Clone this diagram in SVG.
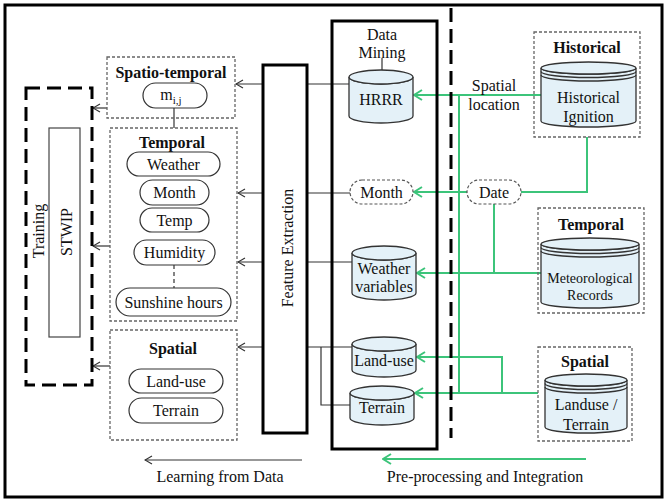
<svg xmlns="http://www.w3.org/2000/svg" width="667" height="502" viewBox="0 0 667 502">
<defs>
<style>
text{font-family:"Liberation Serif","Times New Roman",serif;font-size:16px;fill:#111;text-anchor:middle}
.b{font-weight:bold}
.s14{font-size:14px}
.dbox{fill:none;stroke:#666;stroke-width:1.3;stroke-dasharray:3 2}
.pill{fill:#fff;stroke:#333;stroke-width:1.2}
.dpill{fill:#fff;stroke:#555;stroke-width:1.2;stroke-dasharray:3 2}
.cyl{fill:#e4f1f8;stroke:#333;stroke-width:1.3}
.rim{fill:none;stroke:#333;stroke-width:1.3}
.thick{fill:none;stroke:#000;stroke-width:3}
.bl{fill:none;stroke:#333;stroke-width:1.2}
.gr{fill:none;stroke:#3cc47a;stroke-width:2}
.dash3{fill:none;stroke:#000;stroke-width:3;stroke-dasharray:14 7}
</style>
<marker id="ab" markerUnits="userSpaceOnUse" viewBox="0 0 10 10" refX="9" refY="5" markerWidth="10" markerHeight="10" orient="auto">
<path d="M2,1 L9,5 L2,9" fill="none" stroke="#333" stroke-width="1.2"/>
</marker>
<marker id="ag" markerUnits="userSpaceOnUse" viewBox="0 0 12 12" refX="11" refY="6" markerWidth="12" markerHeight="12" orient="auto">
<path d="M3,1 L11,6 L3,11" fill="none" stroke="#3cc47a" stroke-width="2"/>
</marker>
</defs>
<rect x="0" y="0" width="667" height="502" fill="#fff"/>
<rect x="5" y="5" width="657" height="492" class="thick"/>

<g id="connectors">
<line x1="349" y1="84" x2="236" y2="84" class="bl" marker-end="url(#ab)"/>
<line x1="350" y1="193" x2="238" y2="193" class="bl" marker-end="url(#ab)"/>
<line x1="352" y1="262" x2="238" y2="262" class="bl" marker-end="url(#ab)"/>
<line x1="352" y1="347" x2="238" y2="347" class="bl" marker-end="url(#ab)"/>
<polyline points="321,347 321,405 350,405" class="bl"/>
<line x1="107" y1="108" x2="93" y2="108" class="bl" marker-end="url(#ab)"/>
<line x1="110" y1="246" x2="93" y2="246" class="bl" marker-end="url(#ab)"/>
<line x1="110" y1="366" x2="93" y2="366" class="bl" marker-end="url(#ab)"/>
<line x1="174" y1="108" x2="174" y2="128" class="bl"/>
<line x1="174" y1="265" x2="174" y2="288" class="bl" stroke-dasharray="4 3"/>
<line x1="382" y1="58" x2="382" y2="70" class="bl"/>
<line x1="541" y1="95" x2="414" y2="95" class="gr" marker-end="url(#ag)"/>
<line x1="459" y1="95" x2="459" y2="393" class="gr"/>
<polyline points="587,137 587,192 521,192" class="gr"/>
<line x1="467" y1="192" x2="414" y2="192" class="gr" marker-end="url(#ag)"/>
<line x1="494" y1="204" x2="494" y2="273" class="gr"/>
<line x1="542" y1="273" x2="417" y2="273" class="gr" marker-end="url(#ag)"/>
<line x1="538" y1="393" x2="415" y2="393" class="gr" marker-end="url(#ag)"/>
<polyline points="502,393 502,357 417,357" class="gr" marker-end="url(#ag)"/>
<line x1="451" y1="8" x2="451" y2="438" class="dash3"/>
<line x1="302" y1="460" x2="145" y2="460" class="bl" marker-end="url(#ab)"/>
<line x1="586" y1="459" x2="383" y2="459" class="gr" marker-end="url(#ag)"/>
</g>

<g id="training">
<rect x="26" y="88" width="66" height="297" class="dash3"/>
<text transform="translate(44,231) rotate(-90)">Training</text>
</g>
<g id="stwip">
<rect x="49" y="128" width="31" height="209" fill="#fff" stroke="#444" stroke-width="1.2"/>
<text transform="translate(72,232) rotate(-90)">STWIP</text>
</g>

<g id="spatio-temporal">
<rect x="107" y="57" width="128" height="61" class="dbox"/>
<text x="171" y="78" class="b">Spatio-temporal</text>
<rect x="143" y="83" width="64" height="25" rx="12.5" class="pill"/>
<text x="171" y="100">m<tspan font-size="11" dy="4">i,j</tspan></text>
</g>

<g id="temporal">
<rect x="110" y="128" width="127" height="193" class="dbox"/>
<text x="172" y="148" class="b">Temporal</text>
<rect x="127" y="152" width="93" height="24" rx="12" class="pill"/>
<text x="173.5" y="170">Weather</text>
<rect x="140" y="180" width="69" height="25" rx="12.5" class="pill"/>
<text x="174.5" y="198">Month</text>
<rect x="140" y="208" width="69" height="24" rx="12" class="pill"/>
<text x="174.5" y="226">Temp</text>
<rect x="134" y="240" width="81" height="25" rx="12.5" class="pill"/>
<text x="174.5" y="258">Humidity</text>
<rect x="116" y="288" width="115" height="28" rx="14" class="pill"/>
<text x="173.5" y="308">Sunshine hours</text>
</g>

<g id="spatial-left">
<rect x="110" y="330" width="127" height="110" class="dbox"/>
<text x="173" y="354" class="b">Spatial</text>
<rect x="129" y="369" width="94" height="24" rx="12" class="pill"/>
<text x="176" y="387">Land-use</text>
<rect x="129" y="398" width="94" height="25" rx="12.5" class="pill"/>
<text x="176" y="416">Terrain</text>
</g>

<g id="feature-extraction">
<rect x="263" y="65" width="44" height="368" fill="#fff" stroke="#000" stroke-width="3"/>
<text transform="translate(293,248) rotate(-90)">Feature Extraction</text>
</g>

<g id="data-mining">
<rect x="332" y="21" width="105" height="428" class="thick"/>
<text x="382" y="40">Data</text>
<text x="382" y="58">Mining</text>
</g>

<g id="hrrr">
<path class="cyl" d="M349,77 A32,7 0 0 0 413,77 V116 A32,7 0 0 1 349,116 Z"/>
<ellipse cx="381" cy="77" rx="32" ry="7" class="cyl"/>
<text x="381" y="105">HRRR</text>
</g>

<g id="month-dm">
<rect x="350" y="180" width="63" height="24" rx="12" class="dpill"/>
<text x="381.5" y="198">Month</text>
</g>

<g id="weather-variables">
<path class="cyl" d="M352,253 A32,7 0 0 0 416,253 V293 A32,7 0 0 1 352,293 Z"/>
<ellipse cx="384" cy="253" rx="32" ry="7" class="cyl"/>
<text x="384" y="274">Weather</text>
<text x="384" y="292">variables</text>
</g>

<g id="land-use-dm">
<path class="cyl" d="M352,344 A32,7 0 0 0 416,344 V370 A32,7 0 0 1 352,370 Z"/>
<ellipse cx="384" cy="344" rx="32" ry="7" class="cyl"/>
<text x="384" y="366">Land-use</text>
</g>

<g id="terrain-dm">
<path class="cyl" d="M350,393 A32,7 0 0 0 414,393 V418 A32,7 0 0 1 350,418 Z"/>
<ellipse cx="382" cy="393" rx="32" ry="7" class="cyl"/>
<text x="382" y="413">Terrain</text>
</g>

<g id="date">
<rect x="467" y="180" width="54" height="24" rx="12" class="dpill"/>
<text x="494" y="198">Date</text>
</g>
<g id="spatial-location-label">
<text x="494" y="91">Spatial</text>
<text x="494" y="110">location</text>
</g>

<g id="historical">
<rect x="534" y="32" width="106" height="105" class="dbox"/>
<text x="587" y="53" class="b">Historical</text>
<path class="cyl" d="M541,68 A47.5,6 0 0 0 636,68 V121 A47.5,6 0 0 1 541,121 Z"/>
<ellipse cx="588.5" cy="68" rx="47.5" ry="6" class="cyl"/>
<path class="rim" d="M541,71.5 A47.5,6 0 0 0 636,71.5 M541,75 A47.5,6 0 0 0 636,75"/>
<text x="588.5" y="103">Historical</text>
<text x="588.5" y="122">Ignition</text>
</g>

<g id="temporal-right">
<rect x="538" y="208" width="106" height="105" class="dbox"/>
<text x="591" y="230" class="b">Temporal</text>
<path class="cyl" d="M541,244 A49,6 0 0 0 639,244 V302 A49,6 0 0 1 541,302 Z"/>
<ellipse cx="590" cy="244" rx="49" ry="6" class="cyl"/>
<path class="rim" d="M541,247.5 A49,6 0 0 0 639,247.5 M541,251 A49,6 0 0 0 639,251"/>
<text x="590" y="283" class="s14">Meteorological</text>
<text x="590" y="300" class="s14">Records</text>
</g>

<g id="spatial-right">
<rect x="538" y="347" width="94" height="94" class="dbox"/>
<text x="585" y="367" class="b">Spatial</text>
<path class="cyl" d="M545,380 A41,6 0 0 0 627,380 V427 A41,6 0 0 1 545,427 Z"/>
<ellipse cx="586" cy="380" rx="41" ry="6" class="cyl"/>
<path class="rim" d="M545,383.5 A41,6 0 0 0 627,383.5 M545,387 A41,6 0 0 0 627,387"/>
<text x="586" y="410">Landuse /</text>
<text x="586" y="430">Terrain</text>
</g>

<g id="bottom-labels">
<text x="220" y="482">Learning from Data</text>
<text x="485" y="482">Pre-processing and Integration</text>
</g>
</svg>
